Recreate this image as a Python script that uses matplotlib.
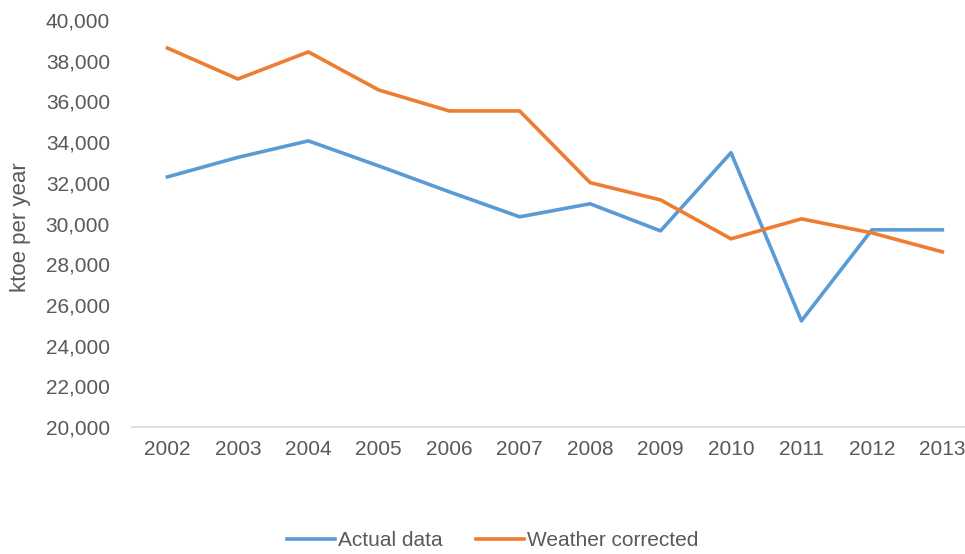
import matplotlib
matplotlib.use('Agg')
import matplotlib.pyplot as plt
from matplotlib.ticker import FuncFormatter

# Energy consumption, ktoe per year
years = ['2002', '2003', '2004', '2005', '2006', '2007',
         '2008', '2009', '2010', '2011', '2012', '2013']
actual = [32290, 33250, 34060, 32830, 31560, 30330,
          30970, 29640, 33480, 25220, 29690, 29690]
weather_corrected = [38620, 37100, 38430, 36560, 35530, 35530,
                     32010, 31160, 29250, 30230, 29540, 28610]

BLUE = '#5B9BD5'
ORANGE = '#ED7D31'
GREY_TEXT = '#595959'
FS = 15

plt.rcParams['font.family'] = ['Liberation Sans', 'DejaVu Sans']

fig = plt.figure(figsize=(9.65, 5.54), dpi=100)
ax = fig.add_axes([0.137, 0.229, 0.876, 0.735])

x = range(len(years))
ax.plot(x, actual, color=BLUE, lw=2.6, label='Actual data')
ax.plot(x, weather_corrected, color=ORANGE, lw=2.6, label='Weather corrected')

ax.set_xlim(-0.5, len(years) - 0.5)
ax.set_ylim(20000, 40000)
ax.set_yticks(range(20000, 40001, 2000))
ax.yaxis.set_major_formatter(FuncFormatter(lambda v, p: f'{int(v):,}'))
ax.set_xticks(list(x))
ax.set_xticklabels(years)

for s in ['top', 'right', 'left']:
    ax.spines[s].set_visible(False)
ax.spines['bottom'].set_color('#d9d9d9')
ax.spines['bottom'].set_linewidth(1.2)
ax.tick_params(axis='both', length=0, labelsize=FS, colors=GREY_TEXT)
ax.tick_params(axis='y', pad=16)
ax.tick_params(axis='x', pad=9)

ax.set_ylabel('ktoe per year', fontsize=FS + 1, color=GREY_TEXT)
ax.yaxis.set_label_coords(-0.1325, 0.49)
ax.yaxis.label.set_verticalalignment('center')

fig.legend(loc='center', bbox_to_anchor=(0.511, 0.0235), ncol=2, frameon=False,
           fontsize=FS, labelcolor=GREY_TEXT, handlelength=2.3,
           handletextpad=0.15, columnspacing=1.6, borderpad=0.1)

fig.savefig('out.png', dpi=100)
